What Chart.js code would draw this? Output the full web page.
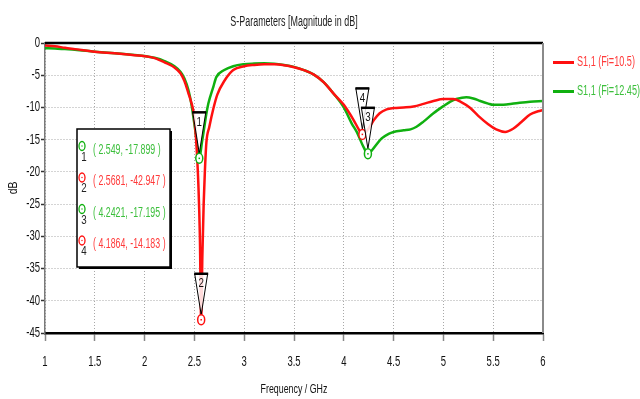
<!DOCTYPE html>
<html>
<head>
<meta charset="utf-8">
<script src="https://cdn.jsdelivr.net/npm/chart.js@4/dist/chart.umd.min.js"></script>
<style>
  body { margin: 0; background: #fff; }
  #wrap { width: 640px; height: 399px; position: relative; }
</style>
</head>
<body>
<div id="wrap"><canvas id="c"></canvas></div>
<script>
// S1,1 (Fi=10.5)
const freqRed = [1.0, 1.1, 1.2, 1.3, 1.5, 1.7, 1.9, 2.0, 2.1, 2.2, 2.3, 2.36, 2.4, 2.44, 2.47, 2.49, 2.51, 2.525, 2.54, 2.555, 2.5681, 2.58, 2.593, 2.605, 2.62, 2.65, 2.69, 2.73, 2.8, 2.89, 3.0, 3.1, 3.2, 3.3, 3.4, 3.5, 3.6, 3.7, 3.8, 3.9, 4.0, 4.1, 4.15, 4.1864, 4.22, 4.26, 4.3, 4.36, 4.43, 4.5, 4.6, 4.7, 4.8, 4.9, 5.0, 5.1, 5.17, 5.27, 5.35, 5.45, 5.53, 5.62, 5.7, 5.78, 5.87, 5.95, 6.0];
const s11Red = [-0.4, -0.5, -0.75, -0.95, -1.35, -1.6, -1.9, -2.05, -2.35, -3.0, -3.8, -4.7, -5.9, -7.8, -9.3, -10.6, -13.5, -17, -22, -30, -42.947, -33, -25, -20, -15.5, -13, -10.2, -8.0, -5.9, -4.2, -3.6, -3.4, -3.3, -3.3, -3.45, -3.75, -4.2, -4.9, -6.1, -7.9, -9.6, -12.0, -13.4, -14.183, -13.9, -13.0, -12.0, -10.9, -10.3, -10.1, -10.0, -9.85, -9.45, -9.0, -8.7, -8.7, -9.1, -10.1, -11.3, -12.6, -13.4, -13.8, -13.3, -12.3, -11.1, -10.6, -10.4];

// S1,1 (Fi=12.45)
const freqGreen = [1.0, 1.1, 1.2, 1.3, 1.5, 1.7, 1.9, 2.0, 2.1, 2.2, 2.3, 2.36, 2.4, 2.44, 2.47, 2.5, 2.525, 2.549, 2.575, 2.6, 2.62, 2.64, 2.69, 2.72, 2.8, 2.89, 3.0, 3.1, 3.2, 3.3, 3.4, 3.5, 3.6, 3.7, 3.8, 3.9, 4.0, 4.08, 4.13, 4.2, 4.2421, 4.3, 4.38, 4.45, 4.5, 4.6, 4.67, 4.73, 4.8, 4.9, 5.0, 5.07, 5.13, 5.23, 5.3, 5.37, 5.45, 5.5, 5.58, 5.65, 5.75, 5.87, 6.0];
const s11Green = [-0.8, -0.85, -0.95, -1.05, -1.35, -1.6, -1.85, -2.0, -2.3, -2.8, -3.6, -4.45, -5.5, -7.3, -9.5, -12.6, -15.5, -17.899, -15.5, -13, -11, -9.4, -6.8, -5.3, -4.2, -3.6, -3.3, -3.2, -3.15, -3.2, -3.4, -3.7, -4.2, -4.9, -6.1, -7.9, -10.0, -12.5, -13.8, -16.2, -17.195, -16.3, -14.8, -14.1, -13.8, -13.55, -13.4, -13.0, -12.2, -10.9, -9.8, -9.1, -8.7, -8.4, -8.6, -9.0, -9.4, -9.6, -9.6, -9.5, -9.3, -9.1, -9.0];

const seriesNames = ['S1,1 (Fi=10.5)', 'S1,1 (Fi=12.45)'];
const seriesColors = ['#ff1010', '#10b010'];
const textColors = ['#ff3a3a', '#3cbf3c'];

// markers
const markerNames = ['1', '2', '3', '4'];
const markerFreq = [2.549, 2.5681, 4.2421, 4.1864];
const markerDb = [-17.899, -42.947, -17.195, -14.183];
const markerSeries = [1, 0, 1, 0];

const FAMILY = "'Liberation Sans', Arial, sans-serif";
Chart.defaults.font.family = FAMILY;
Chart.defaults.font.size = 13;
Chart.defaults.color = '#111';

function pts(xs, ys) {
  return xs.map((f, i) => ({ x: f, y: ys[i] }));
}

// condensed text, like the original plot font
function txt(ctx, s, x, y, size, color, align, squeeze, rot) {
  ctx.save();
  ctx.translate(x, y);
  if (rot) ctx.rotate(rot);
  ctx.scale(squeeze || 0.68, 1);
  ctx.font = size + 'px ' + FAMILY;
  ctx.fillStyle = color;
  ctx.textAlign = align || 'left';
  ctx.textBaseline = 'middle';
  ctx.fillText(s, 0, 0);
  ctx.restore();
}

const extras = {
  id: 'extras',
  afterDatasetsDraw(chart) {
    const { ctx, chartArea: a, scales: { x, y } } = chart;
    ctx.save();

    // frame top + right
    ctx.strokeStyle = '#000';
    ctx.lineWidth = 2.5;
    ctx.beginPath();
    ctx.moveTo(a.left, a.top);
    ctx.lineTo(a.right, a.top);
    ctx.stroke();
    ctx.strokeStyle = '#8a8a8a';
    ctx.lineWidth = 2;
    ctx.beginPath();
    ctx.moveTo(a.right, a.top);
    ctx.lineTo(a.right, a.bottom);
    ctx.stroke();

    // tick labels from the library's scales
    x.ticks.forEach(t => {
      txt(ctx, String(t.value), x.getPixelForValue(t.value), 362, 14, '#111', 'center');
    });
    y.ticks.forEach(t => {
      txt(ctx, String(t.value), 40, y.getPixelForValue(t.value), 14, '#111', 'right');
    });
    txt(ctx, 'Frequency / GHz', (a.left + a.right) / 2, 389, 13, '#111', 'center');
    txt(ctx, 'dB', 13, (a.top + a.bottom) / 2, 13, '#111', 'center', 0.8, -Math.PI / 2);

    // marker triangles + circles (4 before 3 so 3 is on top)
    for (let i = markerFreq.length - 1; i >= 0; i--) {
      const px = x.getPixelForValue(markerFreq[i]);
      const py = y.getPixelForValue(markerDb[i]);
      const top = py - 46;
      ctx.beginPath();
      ctx.moveTo(px - 6.5, top);
      ctx.lineTo(px + 6.5, top);
      ctx.lineTo(px, py - 5);
      ctx.closePath();
      ctx.fillStyle = 'rgba(255,255,255,0.85)';
      ctx.fill();
      ctx.strokeStyle = '#000';
      ctx.lineWidth = 1;
      ctx.stroke();
      ctx.lineWidth = 2.5;
      ctx.beginPath();
      ctx.moveTo(px - 7, top);
      ctx.lineTo(px + 7, top);
      ctx.stroke();
      txt(ctx, markerNames[i], px, top + 10, 13, '#111', 'center', 0.75);

      const col = seriesColors[markerSeries[i]];
      ctx.beginPath();
      ctx.ellipse(px, py, 3.5, 5, 0, 0, Math.PI * 2);
      ctx.fillStyle = '#fff';
      ctx.fill();
      ctx.strokeStyle = col;
      ctx.lineWidth = 1.5;
      ctx.stroke();
      ctx.fillStyle = col;
      ctx.fillRect(px - 0.75, py - 0.75, 1.5, 1.5);
    }

    // marker table
    const bx = 77, by = 129, bw = 93, bh = 138;
    ctx.fillStyle = '#000';
    ctx.fillRect(bx + 2, by + 2, bw, bh);
    ctx.fillStyle = '#fff';
    ctx.fillRect(bx, by, bw, bh);
    ctx.strokeStyle = '#000';
    ctx.lineWidth = 1.5;
    ctx.strokeRect(bx, by, bw, bh);
    markerNames.forEach((n, i) => {
      const ry = 150 + i * 31.5;
      const s = markerSeries[i];
      ctx.beginPath();
      ctx.ellipse(82, ry - 4, 3, 4.5, 0, 0, Math.PI * 2);
      ctx.strokeStyle = seriesColors[s];
      ctx.lineWidth = 1.3;
      ctx.stroke();
      ctx.fillStyle = seriesColors[s];
      ctx.fillRect(81.4, ry - 4.6, 1.2, 1.2);
      txt(ctx, n, 84, ry + 7, 13, '#222', 'center', 0.75);
      txt(ctx, '( ' + markerFreq[i] + ', ' + markerDb[i] + ' )', 93, ry, 14, textColors[s], 'left', 0.63);
    });

    // legend on the right
    seriesNames.forEach((name, i) => {
      const ly = 62.5 + i * 29;
      ctx.strokeStyle = seriesColors[i];
      ctx.lineWidth = 3;
      ctx.beginPath();
      ctx.moveTo(553, ly);
      ctx.lineTo(574, ly);
      ctx.stroke();
      txt(ctx, name, 577, ly, 14, textColors[i], 'left', 0.65);
    });

    // title
    txt(ctx, 'S-Parameters [Magnitude in dB]', (a.left + a.right) / 2, 22, 14, '#222', 'center', 0.64);

    ctx.restore();
  }
};

new Chart(document.getElementById('c'), {
  type: 'line',
  data: {
    datasets: [
      {
        label: seriesNames[0],
        data: pts(freqRed, s11Red),
        borderColor: seriesColors[0],
        borderWidth: 2.5,
        pointRadius: 0,
        cubicInterpolationMode: 'monotone'
      },
      {
        label: seriesNames[1],
        data: pts(freqGreen, s11Green),
        borderColor: seriesColors[1],
        borderWidth: 2.5,
        pointRadius: 0,
        cubicInterpolationMode: 'monotone'
      }
    ]
  },
  options: {
    responsive: true,
    maintainAspectRatio: false,
    animation: false,
    events: [],
    layout: { padding: { top: 43, right: 97, left: 0, bottom: 0 } },
    plugins: { legend: { display: false }, tooltip: { enabled: false } },
    scales: {
      x: {
        type: 'linear',
        min: 1,
        max: 6,
        ticks: { stepSize: 0.5, display: false },
        grid: { color: '#a8a8a8', tickColor: '#888', tickLength: 8, tickWidth: 1.5 },
        border: { color: '#000', width: 2.5, dash: [1, 2] },
        afterFit(s) { s.height = 66; }
      },
      y: {
        min: -45,
        max: 0,
        ticks: { stepSize: 5, display: false },
        grid: { color: '#a8a8a8', tickColor: '#333', tickLength: 4, tickWidth: 1.5 },
        border: { color: '#7a7a7a', width: 1.5, dash: [1, 2] },
        afterFit(s) { s.width = 45; }
      }
    }
  },
  plugins: [extras]
});
</script>
</body>
</html>
